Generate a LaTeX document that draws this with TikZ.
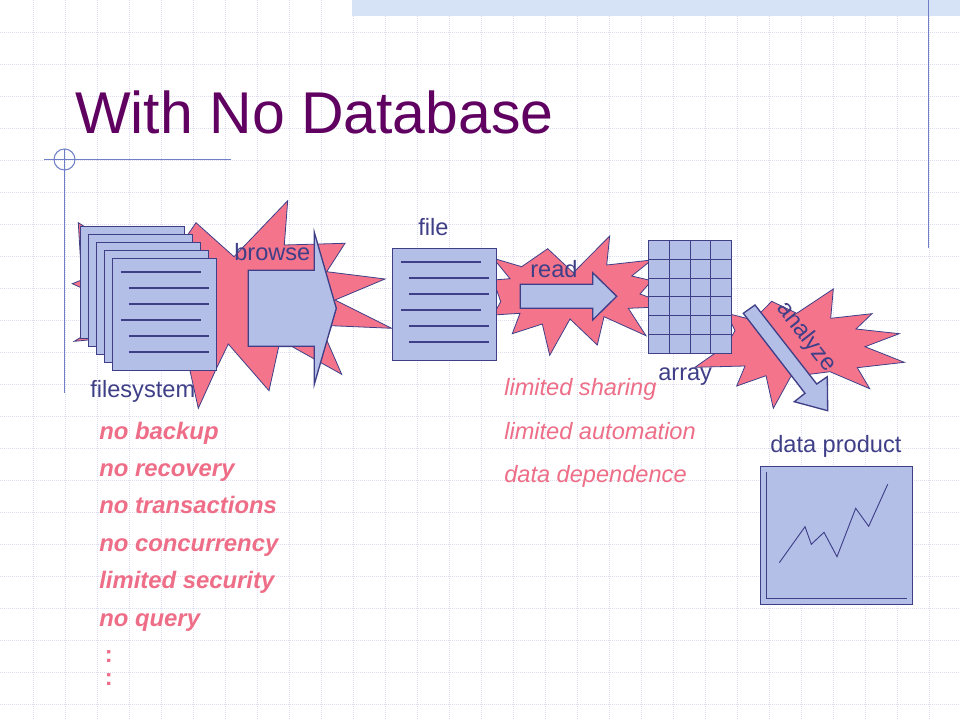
\documentclass[tikz,border=0pt]{standalone}
\usepackage{fontspec}
\setmainfont{Liberation Sans}
\definecolor{ink}{HTML}{3F3F88}
\definecolor{paleblue}{HTML}{B4BFE8}
\definecolor{starpink}{HTML}{F4748C}
\definecolor{titlepurple}{HTML}{600060}
\definecolor{gridcol}{HTML}{DEDEF2}
\definecolor{bandcol}{HTML}{D6E2F5}
\definecolor{rulecol}{HTML}{7080C8}
\definecolor{notepink}{HTML}{EE6E88}
\tikzset{
  gridline/.style={gridcol,line width=.75pt,dash pattern=on .75pt off .75pt},
  rule/.style={rulecol,line width=.8pt},
  star/.style={draw=ink,fill=starpink,line width=.6pt,line join=miter},
  shapebox/.style={draw=ink,fill=paleblue,line width=1pt,line join=miter},
  inner/.style={ink,line width=.8pt},
  label/.style={text=ink,font=\fontsize{17.7}{20}\selectfont,inner sep=0pt,anchor=base west},
  strongnote/.style={text=notepink,font=\fontsize{17.9}{20}\selectfont\bfseries\itshape,inner sep=0pt,anchor=base west},
  softnote/.style={text=notepink,font=\fontsize{17.7}{20}\selectfont\itshape,inner sep=0pt,anchor=base west},
  dots/.style={text=notepink,font=\fontsize{17.7}{20}\selectfont\bfseries,inner sep=0pt,anchor=base},
}
\newcommand{\docsheet}[2]{%
  \draw[shapebox] (#1,#2) rectangle ++(104,112);
  \draw[inner] (#1+8,#2+13.5) -- ++(80.5,0)
    (#1+16,#2+29.5) -- ++(80.5,0)
    (#1+16,#2+45.5) -- ++(80.5,0)
    (#1+8,#2+61.5) -- ++(80.5,0)
    (#1+16,#2+77.5) -- ++(80.5,0)
    (#1+16,#2+93.5) -- ++(80.5,0);
}
\begin{document}
\begin{tikzpicture}[x=.75pt,y=-.75pt]
\useasboundingbox (0,0) rectangle (960,720);
\fill[white] (0,0) rectangle (960,720);
% background
\foreach \i in {1,...,29} \draw[gridline] ({1+32*\i},0) -- ({1+32*\i},720);
\foreach \i in {1,...,22} \draw[gridline] (0,{.5+32*\i}) -- (960,{.5+32*\i});
\fill[bandcol] (352,0) rectangle (960,16);
\draw[rule] (928.5,0) -- (928.5,248);
\draw[rule] (44,159.5) -- (231,159.5);
\draw[rule] (64.5,149) -- (64.5,393);
\draw[rule] (64.5,159.5) circle (10.5);
% title
\node[text=titlepurple,font=\fontsize{44.2}{50}\selectfont,inner sep=0pt,anchor=base west] (title) at (75,134) {With No Database};
% star 1
\draw[star] (78.3,222.7) -- (86.7,228) -- (180,246) -- (196,222.7) -- (234,256.7) -- (287.7,200.7) -- (284.3,245) -- (345,243.3) -- (326.7,271.7) -- (385,279) -- (335,300) -- (391.7,328.3) -- (331.7,325.7) -- (326.7,340) -- (341.7,374.3) -- (292.3,346.7) -- (278.7,346.7) -- (269,390.7) -- (228.3,344) -- (215.7,370) -- (198.3,408.3) -- (190,370.7) -- (88,340) -- (74.3,341.3) -- (81.7,336.7) -- (81.7,288) -- (72.3,283.7) -- (81.7,280) -- cycle;
% file stack
\docsheet{80.5}{226.5}
\docsheet{88.5}{234.5}
\docsheet{96.5}{242.5}
\docsheet{104.5}{250.5}
\docsheet{112.5}{258.5}
% browse arrow
\draw[shapebox] (248.3,270.3) -- (314.3,270.3) -- (314.3,232.3) -- (336.3,308.3) -- (314.3,384.3) -- (314.3,346.3) -- (248.3,346.3) -- cycle;
% star 2
\draw[star] (493.3,258.3) -- (521.7,266.7) -- (547.7,248.7) -- (573.3,272.7) -- (609.7,236) -- (606.7,265) -- (651.7,260) -- (631.7,276) -- (651.7,280.7) -- (640,294) -- (651.7,298.3) -- (651.7,307.3) -- (628.3,308.3) -- (646,335.7) -- (604,316.7) -- (597.3,345) -- (570,319) -- (549.7,355.3) -- (542.3,324) -- (512.3,333.7) -- (520,313.3) -- (493.3,315) -- (500.7,301.7) -- (493.3,280) -- (510,278.7) -- cycle;
% file
\docsheet{392.5}{248.5}
% read arrow
\draw[shapebox] (520.3,284.3) -- (592.7,284.3) -- (592.7,272.7) -- (616.7,296.3) -- (592.7,320) -- (592.7,308.3) -- (520.3,308.3) -- cycle;
% star 3
\draw[star] (695,367.3) -- (726.7,345) -- (735,330.7) -- (726.7,313.3) -- (753.3,320) -- (771.7,301.3) -- (796.7,313.3) -- (833.3,289) -- (830.7,318.3) -- (872,313.7) -- (856,329) -- (899.3,333.7) -- (865,346.7) -- (904.3,362.3) -- (857.3,367.7) -- (869.7,388.7) -- (830,371.7) -- (790.7,376.7) -- (773.3,408.3) -- (766,375.7) -- (736.7,386) -- (745,366) -- cycle;
% array
\draw[shapebox] (648.5,240.5) rectangle (731.5,353.5);
\draw[inner] (669.3,240.5) -- (669.3,353.5) (690.7,240.5) -- (690.7,353.5) (710.7,240.5) -- (710.7,353.5)
  (648.5,259.3) -- (731.5,259.3) (648.5,278.3) -- (731.5,278.3) (648.5,296.7) -- (731.5,296.7) (648.5,315.7) -- (731.5,315.7) (648.5,334.3) -- (731.5,334.3);
% analyze arrow
\draw[shapebox] (743.3,313.3) -- (755,305) -- (816.7,384) -- (827.3,376.7) -- (827.7,410.7) -- (794.3,401.7) -- (805,393.3) -- cycle;
% chart
\draw[shapebox] (760.5,466.5) rectangle (912.5,604.5);
\draw[inner] (766.3,472.3) -- (766.3,598.3) -- (906.7,598.3);
\draw[inner,line width=.7pt] (779.3,562.7) -- (805,526.7) -- (811.3,544.3) -- (824,532.3) -- (837,556.7) -- (855.7,508.3) -- (868.7,526.3) -- (887.7,484.3);
% labels
\node[label] (filesystem) at (90,397) {filesystem};
\node[label] (browse) at (234,261) {browse};
\node[label] (file) at (418,236) {file};
\node[label] (read) at (530,277) {read};
\node[label] (array) at (658,380) {array};
\node[label] (product) at (770,452) {data product};
\node[label,anchor=center,rotate=-52] (analyze) at (806,337) {analyze};
% notes
\node[strongnote] (n1) at (99,439) {no backup};
\node[strongnote] (n2) at (99,476) {no recovery};
\node[strongnote] (n3) at (99,513) {no transactions};
\node[strongnote] (n4) at (99,551) {no concurrency};
\node[strongnote] (n5) at (99,588) {limited security};
\node[strongnote] (n6) at (99,626) {no query};
\node[dots] (d1) at (108.7,662.5) {:};
\node[dots] (d2) at (108.7,685.5) {:};
\node[softnote] (s1) at (504,395) {limited sharing};
\node[softnote] (s2) at (504,439) {limited automation};
\node[softnote] (s3) at (504,482) {data dependence};
\end{tikzpicture}
\end{document}
